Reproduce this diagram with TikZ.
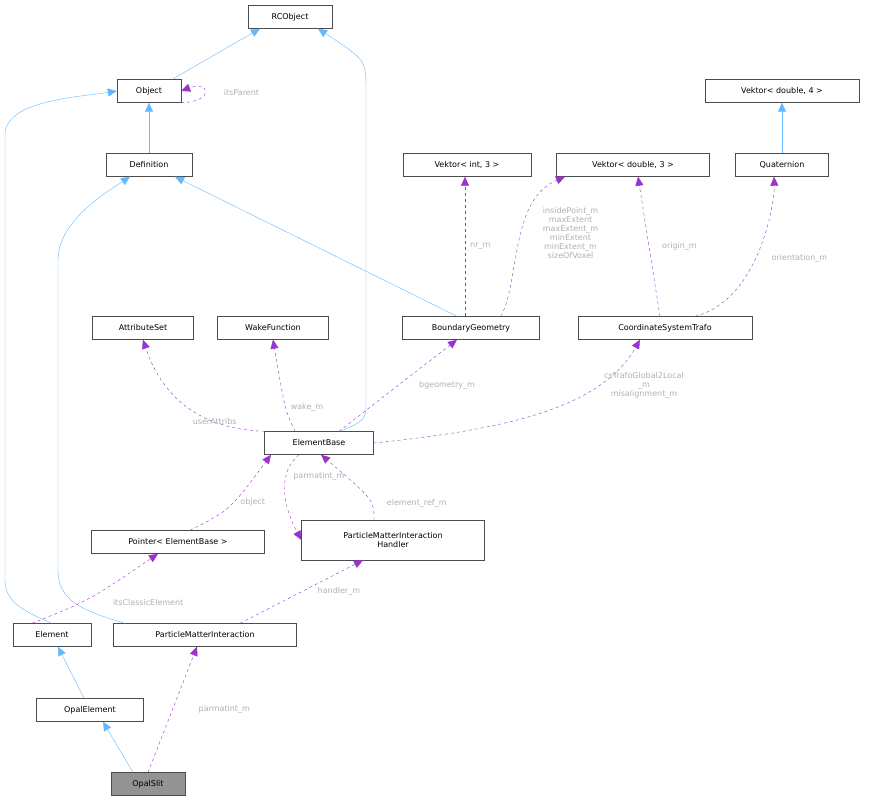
\documentclass[tikz,border=0pt]{standalone}
\usepackage{fontspec}
\setmainfont{DejaVu Sans}
\usetikzlibrary{arrows.meta}
\definecolor{inh}{HTML}{63B8FF}
\definecolor{use}{HTML}{9A32CD}
\definecolor{lbl}{HTML}{B0B0B0}
\begin{document}
\begin{tikzpicture}[x=1pt,y=-1pt,
box/.style={draw=black!70,fill=white,font=\fontsize{8}{9}\selectfont,inner sep=2pt,minimum height=23pt,align=center},
isa/.style={draw=inh,-{Triangle[length=9pt,width=8pt,fill=inh]}},
has/.style={draw=use,dashed,-{Triangle[length=9pt,width=8pt,fill=use]}},
lab/.style={text=lbl,font=\fontsize{8}{9}\selectfont,align=center,inner sep=1pt}
]
\useasboundingbox (0,0) rectangle (872,804);
\node[box,minimum width=84pt] (rco) at (290,17) {RCObject};
\node[box,minimum width=64pt] (obj) at (149,91) {Object};
\node[box,minimum width=86pt] (def) at (149,165) {Definition};
\node[box,minimum width=154pt] (v4) at (782,91) {Vektor< double, 4 >};
\node[box,minimum width=128pt] (vi3) at (467,165) {Vektor< int, 3 >};
\node[box,minimum width=153pt] (vd3) at (633,165) {Vektor< double, 3 >};
\node[box,minimum width=93pt] (quat) at (782,165) {Quaternion};
\node[box,minimum width=101pt] (attr) at (143,328) {AttributeSet};
\node[box,minimum width=111pt] (wake) at (273,328) {WakeFunction};
\node[box,minimum width=137pt] (bgeo) at (471,328) {BoundaryGeometry};
\node[box,minimum width=174pt] (cst) at (665,328) {CoordinateSystemTrafo};
\node[box,minimum width=109pt] (eb) at (319,443) {ElementBase};
\node[box,minimum width=173pt] (ptr) at (178,542) {Pointer< ElementBase >};
\node[box,minimum width=183pt,minimum height=40pt] (pmih) at (393,540) {ParticleMatterInteraction\\Handler};
\node[box,minimum width=78pt] (elem) at (52,635) {Element};
\node[box,minimum width=183pt] (pmi) at (205,635) {ParticleMatterInteraction};
\node[box,minimum width=107pt] (oel) at (90,710) {OpalElement};
\node[box,minimum width=74pt,fill=gray!85] (slit) at (148,784) {OpalSlit};
% inheritance
\draw[isa] (obj.north east) ++(-9,0) -- ([xshift=-30pt]rco.south);
\draw[isa] ([xshift=21pt]eb.north) .. controls (366,420) .. (366,400) -- (366,90) .. controls (366,60) .. ([xshift=28pt]rco.south);
\draw[isa] (def) -- (obj);
\draw[isa] (elem.north) .. controls (20,610) and (5,600) .. (5,580) -- (5,135) .. controls (5,100) and (80,97) .. (obj.west);
\draw[isa] ([xshift=-80pt]pmi.north) .. controls (80,610) and (58,600) .. (58,570) -- (58,260) .. controls (58,220) and (110,190) .. ([xshift=-19pt]def.south);
\draw[isa] ([xshift=-14pt]bgeo.north) -- ([xshift=26pt]def.south);
\draw[isa] (quat) -- (v4);
\draw[isa] (oel) -- (elem);
\draw[isa] ([xshift=-15pt]slit.north) -- ([xshift=13pt]oel.south);
% usage
\draw[has] (obj.south east) .. controls (215,102) and (210,80) .. (obj.east) node[lab,right,pos=0.5,xshift=18pt] {itsParent};
\draw[has] ([xshift=-54pt]eb.north) .. controls (230,430) and (170,420) .. (attr.south) node[lab,pos=0.4] {userAttribs};
\draw[has] ([xshift=-24pt]eb.north) .. controls (285,410) .. (wake.south) node[lab,pos=0.45,right,xshift=4pt] {wake\_m};
\draw[has] ([xshift=20pt]eb.north) -- ([xshift=-14pt]bgeo.south) node[lab,pos=0.5,right,xshift=20pt] {bgeometry\_m};
\draw[has] (eb.east) .. controls (500,430) and (600,410) .. ([xshift=-25pt]cst.south) node[lab,pos=0.72,right,xshift=10pt,yshift=2pt] {csTrafoGlobal2Local\\\_m\\misalignment\_m};
\draw[has] ([xshift=-6pt]bgeo.north) -- ([xshift=-2pt]vi3.south) node[lab,pos=0.5,right,xshift=4pt] {nr\_m};
\draw[has] ([xshift=30pt]bgeo.north) .. controls (520,280) and (510,200) .. ([xshift=-68pt]vd3.south) node[lab,pos=0.55,right,xshift=20pt] {insidePoint\_m\\maxExtent\\maxExtent\_m\\minExtent\\minExtent\_m\\sizeOfVoxel};
\draw[has] ([xshift=-5pt]cst.north) -- ([xshift=5pt]vd3.south) node[lab,pos=0.5,right,xshift=12pt] {origin\_m};
\draw[has] ([xshift=30pt]cst.north) .. controls (760,300) and (775,200) .. ([xshift=-8pt]quat.south) node[lab,pos=0.45,right,xshift=15pt] {orientation\_m};
\draw[has] ([xshift=12pt]ptr.north) .. controls (230,510) .. ([xshift=-48pt]eb.south) node[lab,pos=0.55,right,xshift=6pt] {object};
\draw[has] ([xshift=-20pt]eb.south) .. controls (280,470) and (280,500) .. (pmih.west) node[lab,pos=0.35,right,xshift=6pt] {parmatint\_m};
\draw[has] ([xshift=-19pt]pmih.north) .. controls (374,500) .. ([xshift=2pt]eb.south) node[lab,pos=0.35,right,xshift=14pt] {element\_ref\_m};
\draw[has] ([xshift=-20pt]elem.north) .. controls (90,600) .. ([xshift=-20pt]ptr.south) node[lab,pos=0.4,right,xshift=30pt] {itsClassicElement};
\draw[has] ([xshift=35pt]pmi.north) -- ([xshift=-30pt]pmih.south) node[lab,pos=0.5,right,xshift=15pt] {handler\_m};
\draw[has] (slit.north) -- ([xshift=-8pt]pmi.south) node[lab,pos=0.5,right,xshift=25pt] {parmatint\_m};
\end{tikzpicture}
\end{document}
